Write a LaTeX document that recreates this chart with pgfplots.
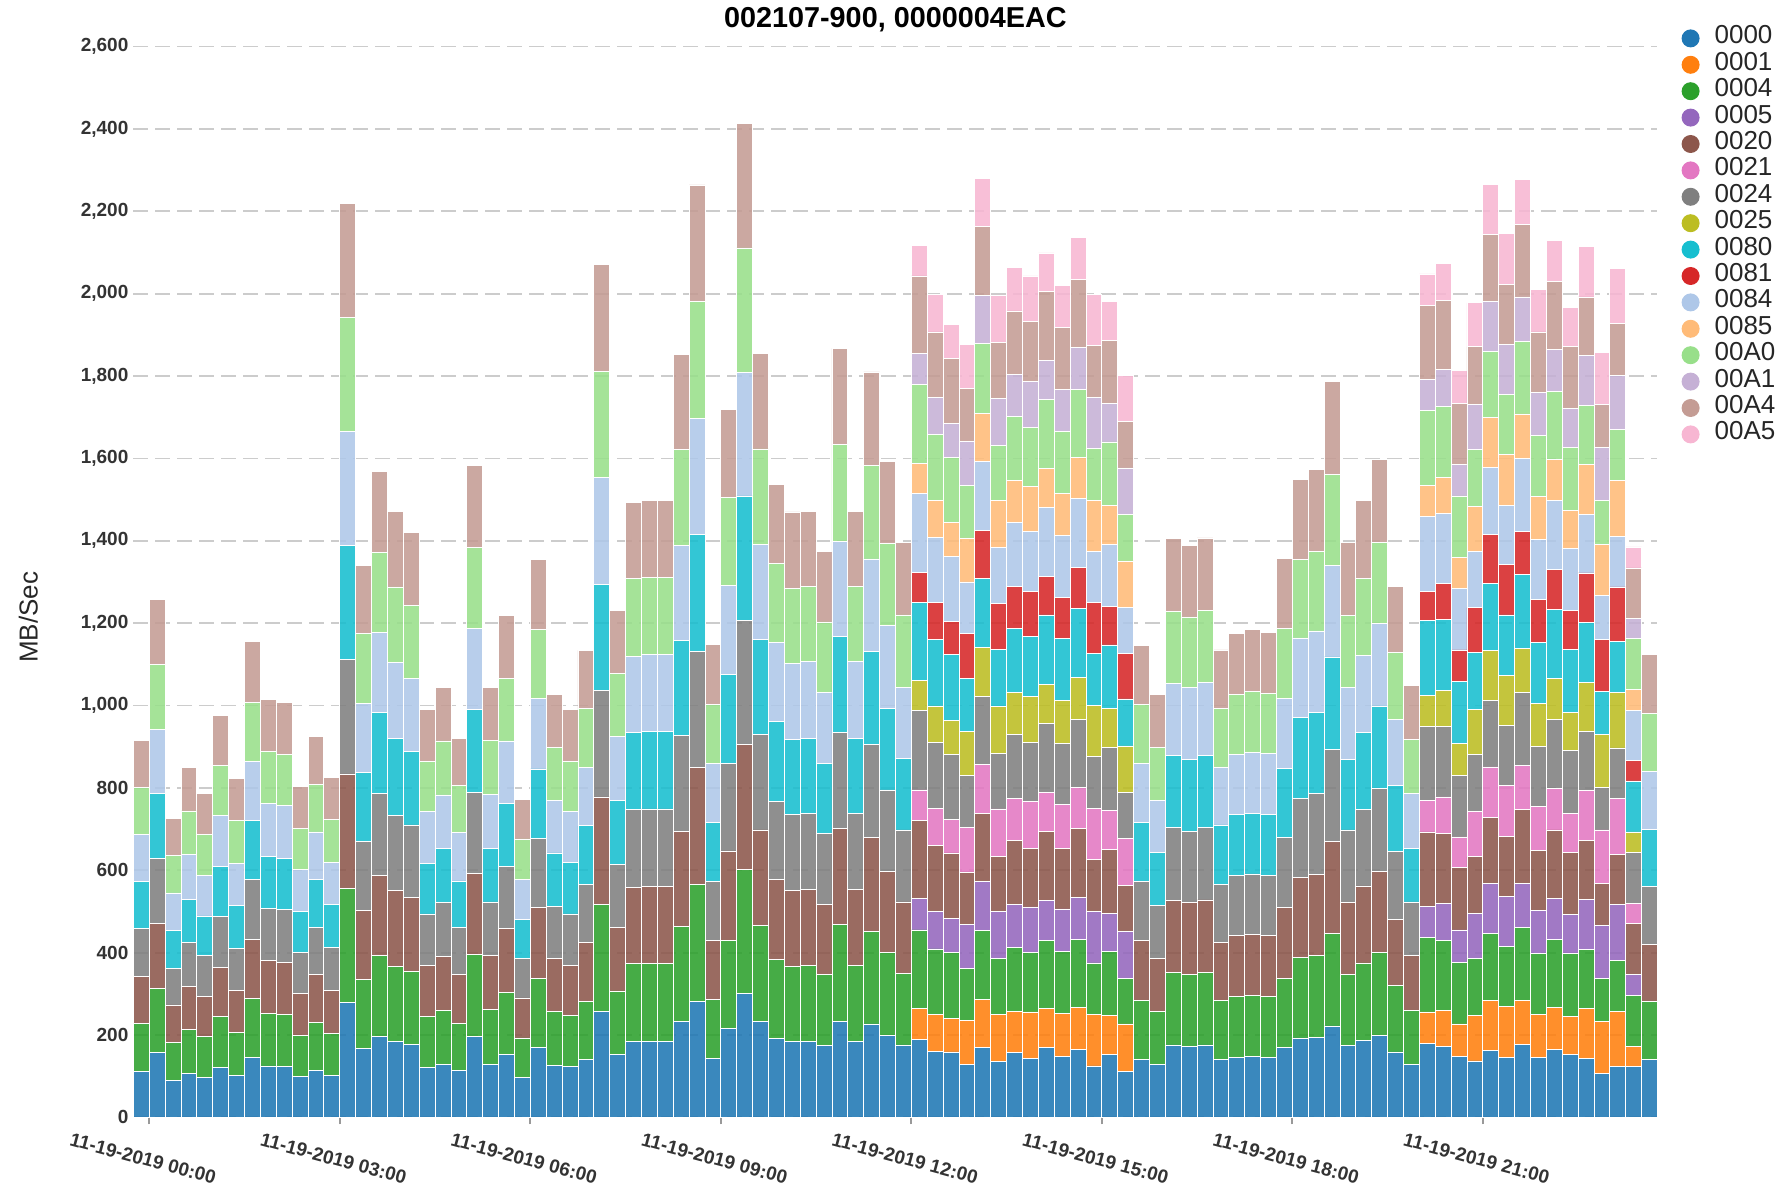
\documentclass[border=0pt]{standalone}
\usepackage{pgfplots}
\usepackage{pgfplotstable}
\pgfplotsset{compat=1.18}
\usepackage{fontspec}
\setmainfont{Liberation Sans}
\definecolor{c0000}{HTML}{1F77B4}
\definecolor{c0001}{HTML}{FF7F0E}
\definecolor{c0004}{HTML}{2CA02C}
\definecolor{c0005}{HTML}{9467BD}
\definecolor{c0020}{HTML}{8C564B}
\definecolor{c0021}{HTML}{E377C2}
\definecolor{c0024}{HTML}{7F7F7F}
\definecolor{c0025}{HTML}{BCBD22}
\definecolor{c0080}{HTML}{17BECF}
\definecolor{c0081}{HTML}{D62728}
\definecolor{c0084}{HTML}{AEC7E8}
\definecolor{c0085}{HTML}{FFBB78}
\definecolor{c00A0}{HTML}{98DF8A}
\definecolor{c00A1}{HTML}{C5B0D5}
\definecolor{c00A4}{HTML}{C49C94}
\definecolor{c00A5}{HTML}{F7B6D2}
\pgfplotstableread{
x s0000 s0001 s0004 s0005 s0020 s0021 s0024 s0025 s0080 s0081 s0084 s0085 s00A0 s00A1 s00A4 s00A5
0 112 0 117 0 113 0 116 0 115 0 115 0 113 0 115 0
1 157 0 157 0 156 0 158 0 158 0 156 0 158 0 157 0
2 89 0 92 0 92 0 89 0 91 0 92 0 91 0 90 0
3 106 0 107 0 105 0 107 0 105 0 108 0 106 0 106 0
4 98 0 98 0 98 0 99 0 96 0 99 0 100 0 98 0
5 121 0 123 0 121 0 122 0 122 0 124 0 122 0 122 0
6 102 0 104 0 103 0 101 0 104 0 103 0 103 0 103 0
7 145 0 143 0 145 0 144 0 144 0 143 0 144 0 147 0
8 125 0 128 0 128 0 127 0 125 0 129 0 126 0 127 0
9 124 0 127 0 126 0 127 0 125 0 128 0 125 0 125 0
10 99 0 100 0 102 0 99 0 100 0 101 0 101 0 101 0
11 114 0 117 0 115 0 116 0 116 0 115 0 115 0 116 0
12 102 0 102 0 105 0 103 0 105 0 103 0 103 0 102 0
13 278 0 277 0 279 0 277 0 278 0 277 0 277 0 277 0
14 167 0 167 0 169 0 167 0 167 0 169 0 168 0 167 0
15 196 0 197 0 195 0 198 0 197 0 195 0 194 0 196 0
16 184 0 183 0 185 0 182 0 186 0 184 0 184 0 183 0
17 177 0 178 0 178 0 177 0 178 0 178 0 178 0 177 0
18 122 0 123 0 125 0 124 0 123 0 125 0 123 0 125 0
19 129 0 131 0 131 0 131 0 130 0 131 0 131 0 131 0
20 114 0 115 0 117 0 115 0 113 0 117 0 115 0 115 0
21 197 0 198 0 198 0 197 0 200 0 197 0 197 0 198 0
22 129 0 133 0 131 0 130 0 131 0 130 0 132 0 129 0
23 152 0 152 0 154 0 151 0 154 0 151 0 152 0 152 0
24 96 0 97 0 97 0 95 0 96 0 97 0 98 0 96 0
25 170 0 168 0 171 0 168 0 169 0 171 0 168 0 169 0
26 127 0 130 0 128 0 128 0 129 0 128 0 128 0 128 0
27 124 0 123 0 123 0 124 0 125 0 123 0 123 0 125 0
28 141 0 141 0 143 0 141 0 142 0 142 0 143 0 141 0
29 258 0 260 0 260 0 259 0 257 0 260 0 258 0 260 0
30 153 0 154 0 155 0 153 0 154 0 155 0 154 0 153 0
31 185 0 189 0 185 0 188 0 187 0 185 0 189 0 185 0
32 185 0 189 0 187 0 188 0 188 0 186 0 187 0 188 0
33 185 0 189 0 187 0 188 0 188 0 186 0 187 0 188 0
34 232 0 232 0 231 0 232 0 232 0 230 0 232 0 231 0
35 282 0 284 0 284 0 282 0 283 0 283 0 283 0 283 0
36 143 0 144 0 142 0 144 0 144 0 143 0 143 0 145 0
37 215 0 215 0 217 0 213 0 215 0 216 0 214 0 215 0
38 301 0 302 0 303 0 300 0 303 0 300 0 302 0 302 0
39 233 0 232 0 233 0 231 0 231 0 232 0 231 0 232 0
40 192 0 192 0 194 0 190 0 193 0 193 0 190 0 193 0
41 184 0 182 0 184 0 185 0 183 0 185 0 182 0 185 0
42 184 0 185 0 185 0 184 0 183 0 185 0 183 0 183 0
43 174 0 172 0 171 0 172 0 171 0 171 0 172 0 172 0
44 233 0 235 0 233 0 233 0 233 0 231 0 235 0 234 0
45 184 0 185 0 185 0 184 0 183 0 185 0 183 0 183 0
46 227 0 225 0 228 0 225 0 226 0 225 0 227 0 227 0
47 200 0 200 0 198 0 197 0 199 0 201 0 198 0 199 0
48 176 0 173 0 174 0 175 0 173 0 174 0 175 0 175 0
49 190 74 191 76 190 74 192 73 191 73 190 74 192 74 189 75
50 161 89 159 91 161 90 159 89 162 90 158 90 160 90 158 91
51 159 82 160 81 160 82 158 82 159 82 158 81 158 83 158 82
52 128 107 126 108 127 108 126 108 128 108 126 107 128 107 128 107
53 169 117 167 119 166 118 166 119 167 118 167 116 170 117 167 117
54 136 114 135 115 134 115 135 114 138 112 136 113 135 114 136 115
55 157 101 154 104 156 102 156 102 155 103 154 102 157 101 154 105
56 144 112 144 111 143 113 143 112 145 110 145 111 143 112 144 111
57 169 95 166 97 167 96 167 94 169 94 168 93 169 94 168 93
58 149 104 150 103 148 105 148 105 150 100 150 103 150 103 150 103
59 165 103 165 102 166 101 165 102 166 100 168 99 166 101 166 101
60 125 125 125 125 126 125 125 124 127 123 125 124 125 125 126 124
61 153 95 154 94 154 95 153 95 154 93 152 94 154 93 154 95
62 112 115 111 113 113 113 113 112 114 111 112 112 114 112 112 112
63 141 0 144 0 145 0 143 0 144 0 143 0 143 0 143 0
64 129 0 129 0 127 0 129 0 129 0 127 0 128 0 128 0
65 176 0 175 0 176 0 176 0 175 0 176 0 175 0 176 0
66 173 0 174 0 175 0 173 0 174 0 174 0 172 0 174 0
67 176 0 176 0 176 0 175 0 176 0 176 0 176 0 176 0
68 141 0 142 0 142 0 141 0 144 0 141 0 142 0 142 0
69 145 0 149 0 147 0 146 0 148 0 146 0 146 0 147 0
70 147 0 149 0 148 0 147 0 148 0 148 0 148 0 149 0
71 145 0 149 0 147 0 147 0 147 0 148 0 147 0 148 0
72 169 0 169 0 172 0 169 0 169 0 169 0 170 0 170 0
73 193 0 195 0 194 0 193 0 195 0 194 0 191 0 194 0
74 195 0 198 0 196 0 197 0 197 0 198 0 194 0 199 0
75 222 0 224 0 224 0 223 0 225 0 223 0 221 0 224 0
76 174 0 173 0 175 0 176 0 172 0 175 0 174 0 176 0
77 186 0 189 0 187 0 185 0 187 0 187 0 187 0 189 0
78 200 0 200 0 198 0 201 0 200 0 200 0 198 0 201 0
79 159 0 162 0 160 0 165 0 160 0 161 0 162 0 161 0
80 128 0 132 0 133 0 130 0 129 0 134 0 131 0 132 0
81 180 76 181 76 180 76 180 75 182 72 182 75 181 76 179 77
82 172 87 171 89 170 89 171 88 173 86 170 88 173 88 169 89
83 149 78 150 78 151 75 149 77 151 77 149 75 150 77 147 80
84 137 110 140 109 137 110 138 110 138 109 137 109 138 109 140 107
85 162 122 163 121 160 123 161 121 163 119 163 121 161 122 162 122
86 145 124 145 123 146 123 145 123 146 122 144 123 146 122 146 123
87 177 107 178 107 178 108 177 107 179 105 177 108 177 107 176 109
88 145 106 147 105 145 107 146 105 148 103 146 104 148 105 147 103
89 165 101 166 100 166 101 167 100 167 97 167 100 166 102 164 101
90 153 92 153 94 152 94 152 93 153 94 151 93 152 95 150 95
91 143 121 143 122 143 122 142 121 144 121 143 120 144 121 142 122
92 106 127 105 127 104 129 104 127 106 125 108 124 107 128 104 127
93 124 134 123 135 122 136 123 134 124 133 123 135 124 132 126 133
94 124 49 123 51 123 49 124 50 124 49 123 50 123 49 123 51
95 140 0 141 0 140 0 140 0 139 0 141 0 140 0 142 0
}\data
\begin{document}
\begin{tikzpicture}
\begin{axis}[
  at={(0,0)}, anchor=south west,
  scale only axis, width=762pt, height=535.4pt,
  ybar stacked, bar width=1,
  clip=false, enlargelimits=false,
  xmin=-0.5, xmax=95.5, ymin=0, ymax=2600,
  ytick={0,200,...,2600},
  xtick={0.5,12.5,24.5,36.5,48.5,60.5,72.5,84.5},
  xticklabels={11-19-2019 00:00,11-19-2019 03:00,11-19-2019 06:00,11-19-2019 09:00,11-19-2019 12:00,11-19-2019 15:00,11-19-2019 18:00,11-19-2019 21:00},
  axis x line=bottom, axis y line=left,
  x axis line style={-, draw=gray!80, line width=0.8pt},
  y axis line style={draw=none},
  ymajorgrids,
  grid style={draw=gray!40, line width=0.9pt, dash pattern=on 7.5pt off 3.5pt},
  tick align=outside, major tick length=3.5pt,
  xtick style={draw=gray!80, line width=0.8pt},
  ytick style={draw=none},
  /pgf/number format/assume math mode=true,
  /pgf/number format/1000 sep={,},
  yticklabel style={font=\bfseries\fontsize{9.5}{11}\selectfont, text=black!80, anchor=east, xshift=4.5pt},
  xticklabel style={font=\bfseries\fontsize{9.5}{11}\selectfont, text=black!80, rotate=-15, anchor=center, yshift=-17.3pt, xshift=1.4pt},
  every axis plot/.append style={draw=white, line width=0.4pt, fill opacity=0.88},
  legend image code/.code={\fill[#1, draw=none, fill opacity=1] (0pt,0pt) circle (4.5pt);},
  legend style={at={(axis description cs:1,1)}, anchor=north west, xshift=8.9pt, yshift=12.9pt,
    draw=none, fill=none, font=\fontsize{13}{13}\selectfont, text=black!85,
    nodes={inner sep=0.5pt, text height=8.9pt, text depth=3.3pt},
    /tikz/every odd column/.style={column sep=7pt}},
  legend cell align=left,
]
\addplot[fill=c0000] table[x=x, y=s0000] {\data};
\addplot[fill=c0001] table[x=x, y=s0001] {\data};
\addplot[fill=c0004] table[x=x, y=s0004] {\data};
\addplot[fill=c0005] table[x=x, y=s0005] {\data};
\addplot[fill=c0020] table[x=x, y=s0020] {\data};
\addplot[fill=c0021] table[x=x, y=s0021] {\data};
\addplot[fill=c0024] table[x=x, y=s0024] {\data};
\addplot[fill=c0025] table[x=x, y=s0025] {\data};
\addplot[fill=c0080] table[x=x, y=s0080] {\data};
\addplot[fill=c0081] table[x=x, y=s0081] {\data};
\addplot[fill=c0084] table[x=x, y=s0084] {\data};
\addplot[fill=c0085] table[x=x, y=s0085] {\data};
\addplot[fill=c00A0] table[x=x, y=s00A0] {\data};
\addplot[fill=c00A1] table[x=x, y=s00A1] {\data};
\addplot[fill=c00A4] table[x=x, y=s00A4] {\data};
\addplot[fill=c00A5] table[x=x, y=s00A5] {\data};
\legend{0000,0001,0004,0005,0020,0021,0024,0025,0080,0081,0084,0085,00A0,00A1,00A4,00A5}
\node[font=\bfseries\fontsize{14.4}{16}\selectfont, anchor=center] at (axis description cs:0.5,1) [yshift=13.6pt] {002107-900, 0000004EAC};
\node[rotate=90, font=\fontsize{13}{15}\selectfont, text=black!85, anchor=center] at (axis description cs:-0.0689,0.467) {MB/Sec};
\end{axis}
\pgfresetboundingbox
\path[use as bounding box] (-66.7pt,-34.3pt) rectangle (824.8pt,558.7pt);
\end{tikzpicture}
\end{document}
